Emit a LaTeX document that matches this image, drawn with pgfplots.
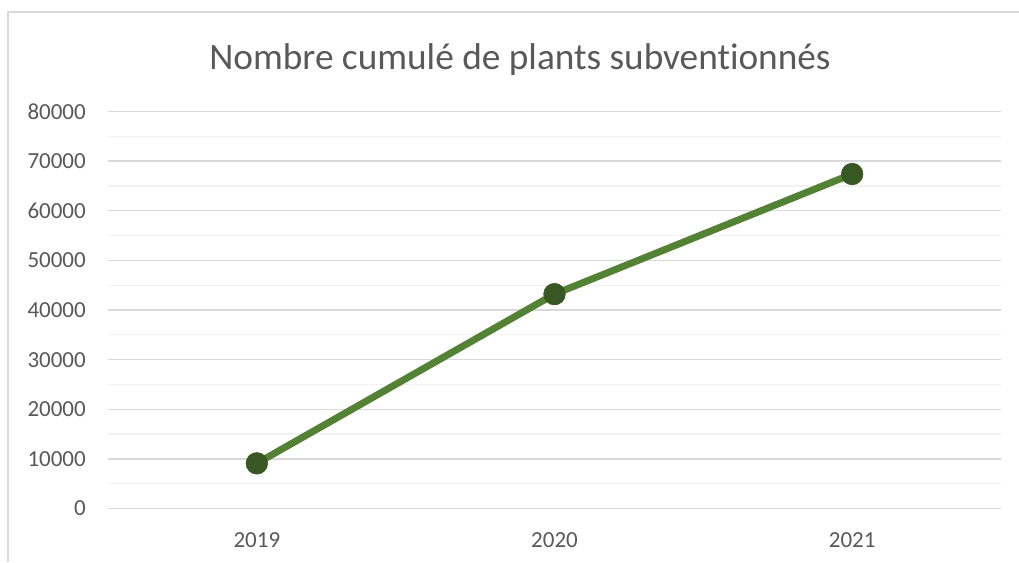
\documentclass[border=0pt]{standalone}
\usepackage{fontspec}
\setmainfont{Carlito}[Ligatures=NoCommon]
\usepackage{pgfplots}
\pgfplotsset{compat=1.18}
\definecolor{txt}{HTML}{595959}
\definecolor{gridmaj}{HTML}{D9D9D9}
\definecolor{gridmin}{HTML}{F2F2F2}
\definecolor{lineg}{HTML}{548235}
\definecolor{markg}{HTML}{385723}
\begin{document}
\begin{tikzpicture}[x=1pt,y=1pt]
\useasboundingbox (0,0) rectangle (1019,562);
\fill[white] (0,0) rectangle (1019,562);
\draw[color=gridmaj, line width=1.5pt] (8,0) -- (8,550) -- (1019,550);
\node[font=\fontsize{37.3}{42}\selectfont, text=txt, anchor=base, inner sep=0pt] at (520,492) {Nombre cumulé de plants subventionnés};
\begin{axis}[
  at={(108pt,53.5pt)}, anchor=south west,
  scale only axis, width=893pt, height=397pt,
  xmin=-0.5, xmax=2.5, ymin=0, ymax=80000,
  xtick={0,1,2}, xticklabels={2019,2020,2021},
  ytick distance=10000, minor y tick num=1,
  ymajorgrids, yminorgrids,
  major grid style={color=gridmaj, line width=1.3pt},
  minor grid style={color=gridmin, line width=1.3pt},
  axis line style={draw=none},
  major tick length=0pt, minor tick length=0pt,
  tick style={draw=none},
  scaled y ticks=false,
  /pgf/number format/assume math mode=true,
  ticklabel style={font=\fontsize{23}{26}\selectfont, text=txt, inner sep=0pt},
  yticklabel style={/pgf/number format/.cd, fixed, 1000 sep={}, /tikz/.cd, xshift=-22pt},
  xticklabel style={yshift=-23.5pt},
  clip=false,
]
\addplot[color=lineg, line width=7pt, mark=*, mark size=10.8pt,
  mark options={fill=markg, draw=markg, line width=0.6pt, solid}]
  coordinates {(0,9100) (1,43200) (2,67400)};
\end{axis}
\end{tikzpicture}
\end{document}
